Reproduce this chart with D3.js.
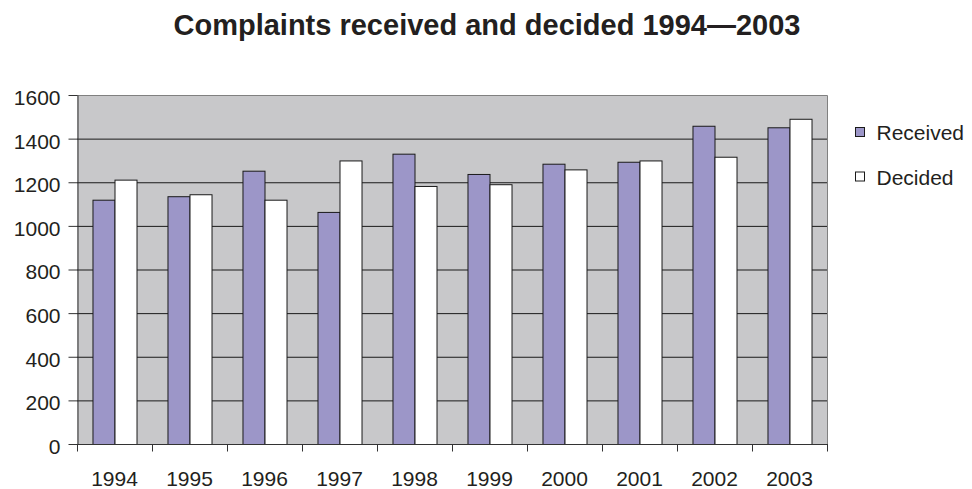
<!DOCTYPE html>
<html>
<head>
<meta charset="utf-8">
<script src="https://cdn.jsdelivr.net/npm/d3@7"></script>
<style>
  html, body { margin: 0; padding: 0; background: #fff; }
  svg { display: block; }
  text { font-family: "Liberation Sans", Arial, sans-serif; fill: #231f20; }
</style>
</head>
<body>
<svg id="chart" width="972" height="489"></svg>
<script>
// Complaints per year
const years = ["1994", "1995", "1996", "1997", "1998", "1999", "2000", "2001", "2002", "2003"];
const received = [1120, 1136, 1253, 1064, 1331, 1238, 1285, 1294, 1459, 1452];
const decided = [1212, 1145, 1120, 1300, 1183, 1191, 1259, 1300, 1317, 1491];
const seriesNames = ["Received", "Decided"];
const seriesColors = ["#9c96c8", "#ffffff"];
const yTicks = [0, 200, 400, 600, 800, 1000, 1200, 1400, 1600];

const svg = d3.select("#chart");
const plot = { left: 77, right: 827, top: 95, bottom: 444 };

const x = d3.scaleBand()
  .domain(years)
  .range([plot.left, plot.right])
  .paddingInner(0.413)
  .paddingOuter(0.2065);

const xSub = d3.scaleBand()
  .domain(seriesNames)
  .range([0, x.bandwidth()]);

const y = d3.scaleLinear()
  .domain([0, 1600])
  .range([plot.bottom, plot.top]);

// Title
svg.append("text")
  .attr("x", 487)
  .attr("y", 35)
  .attr("text-anchor", "middle")
  .style("font-size", "29px")
  .style("font-weight", "bold")
  .text("Complaints received and decided 1994\u20142003");

// Plot background
svg.append("rect")
  .attr("x", plot.left)
  .attr("y", plot.top)
  .attr("width", plot.right - plot.left)
  .attr("height", plot.bottom - plot.top)
  .attr("fill", "#c8c8ca");

// Horizontal gridlines
svg.append("g")
  .selectAll("line")
  .data(yTicks.filter(v => v > 0 && v < 1600))
  .join("line")
  .attr("x1", plot.left)
  .attr("x2", plot.right)
  .attr("y1", d => y(d) + 0.5)
  .attr("y2", d => y(d) + 0.5)
  .attr("stroke", "#1a1a1a")
  .attr("stroke-width", 1);

// Top and right frame
svg.append("path")
  .attr("d", `M${plot.left},${y(1600) + 0.5}H${plot.right + 0.5}V${plot.bottom}`)
  .attr("fill", "none")
  .attr("stroke", "#808080")
  .attr("stroke-width", 1);

// Bars
const groups = svg.append("g")
  .selectAll("g")
  .data(years.map((yr, i) => ({ yr, vals: [received[i], decided[i]] })))
  .join("g")
  .attr("transform", d => `translate(${x(d.yr)},0)`);

groups.selectAll("rect")
  .data(d => d.vals.map((v, j) => ({ name: seriesNames[j], v, color: seriesColors[j] })))
  .join("rect")
  .attr("x", d => xSub(d.name) + 0.5)
  .attr("y", d => y(d.v) + 0.5)
  .attr("width", xSub.bandwidth())
  .attr("height", d => y(0) - y(d.v))
  .attr("fill", d => d.color)
  .attr("stroke", "#1a1a1a")
  .attr("stroke-width", 1);

// Y axis
const yAxis = svg.append("g")
  .attr("transform", `translate(${plot.left + 0.5},0)`)
  .call(d3.axisLeft(y)
    .tickValues(yTicks)
    .tickFormat(d3.format("d"))
    .tickSize(9)
    .tickPadding(8)
    .tickSizeOuter(0));
yAxis.select(".domain").attr("stroke", "#333");
yAxis.selectAll(".tick line").attr("stroke", "#333");
yAxis.selectAll(".tick text")
  .style("font-size", "21px")
  .style("font-family", "\"Liberation Sans\", Arial, sans-serif")
  .attr("fill", "#231f20")
  .attr("dy", "0.45em");

// X axis with ticks on category boundaries
const xAxis = svg.append("g")
  .attr("transform", `translate(0,${plot.bottom + 0.5})`);
xAxis.append("line")
  .attr("x1", plot.left)
  .attr("x2", plot.right + 1)
  .attr("stroke", "#333");
const boundaries = years.map(yr => x(yr) - x.step() * x.paddingInner() / 2);
boundaries.push(plot.right);
xAxis.selectAll("line.tick")
  .data(boundaries)
  .join("line")
  .attr("class", "tick")
  .attr("x1", d => Math.round(d) + 0.5)
  .attr("x2", d => Math.round(d) + 0.5)
  .attr("y1", 0)
  .attr("y2", 7)
  .attr("stroke", "#333");
xAxis.selectAll("text")
  .data(years)
  .join("text")
  .attr("x", d => x(d) + x.bandwidth() / 2)
  .attr("y", 41.5)
  .attr("text-anchor", "middle")
  .style("font-size", "21px")
  .text(d => d);

// Legend
const legend = svg.append("g")
  .selectAll("g")
  .data(seriesNames)
  .join("g")
  .attr("transform", (d, i) => `translate(855.5,${127.5 + i * 44.5})`);
legend.append("rect")
  .attr("width", 9)
  .attr("height", 9)
  .attr("fill", (d, i) => seriesColors[i])
  .attr("stroke", "#1a1a1a");
legend.append("text")
  .attr("x", 21)
  .attr("y", 12.5)
  .style("font-size", "21px")
  .text(d => d);
</script>
</body>
</html>
